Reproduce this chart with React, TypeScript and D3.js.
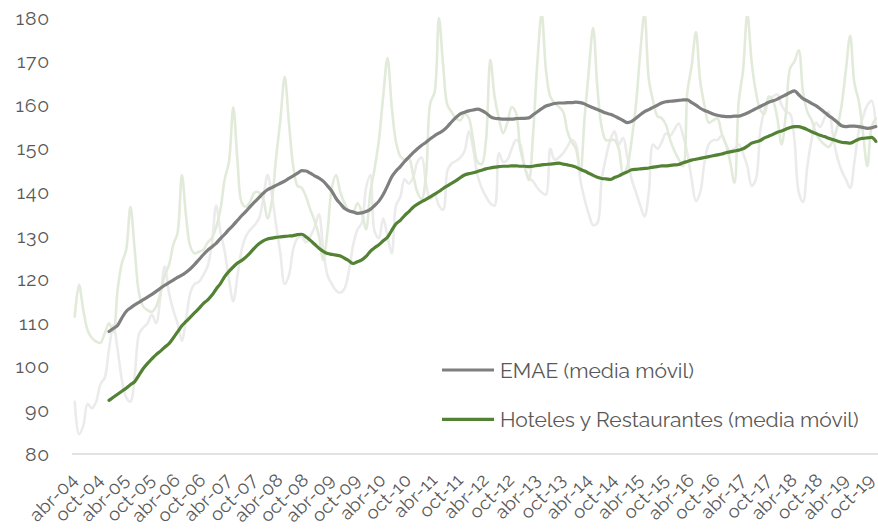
import React from "react";
import * as d3 from "d3";

const N_MONTHS = 188; // abr-04 .. nov-19
const MA_START = 8;

const tickLabels = [
  "abr-04","oct-04","abr-05","oct-05","abr-06","oct-06","abr-07","oct-07",
  "abr-08","oct-08","abr-09","oct-09","abr-10","oct-10","abr-11","oct-11",
  "abr-12","oct-12","abr-13","oct-13","abr-14","oct-14","abr-15","oct-15",
  "abr-16","oct-16","abr-17","oct-17","abr-18","oct-18","abr-19","oct-19",
];

const yTicks = [80, 90, 100, 110, 120, 130, 140, 150, 160, 170, 180];

const hotelRaw = [
  111.5,118.8,113,108.4,106.6,105.8,105.5,107.7,110,108,117.6,123.8,
  126.8,136.7,126.8,116.9,113.8,113,112.6,113.8,116.9,121,123.3,128,
  130.7,144,134.4,127.5,126,126.4,126.8,128.5,129.5,132,136,143,
  147,159.5,147,137.6,136.7,138,140,140,138.5,134,138,148,
  156.6,166.5,156,146,141.5,141,139,136,133.5,130,124.5,131,
  141,144,140,137.5,135.8,135.5,137.5,135.5,131.5,140,145.5,152,
  162,170.8,159.6,151.5,148.3,147.5,147.8,144,140,138.5,144,160.5,
  163,180,169,160,158.4,157,156.5,158,157,152,147,146.5,
  152,170.4,162,157,153.6,156,159.6,158.2,150,146,142.8,153.6,
  170,181,168,162,160.5,159.6,158.5,154,151.5,150,144.5,157,
  168,177.7,164,155,152,152,152,150,144,146,152,160,
  172,181,166,161,157.5,157,155.5,152,149.5,147.5,146,163,
  169,176.8,165.5,160,156,156.5,157,153.6,151,147,142.2,161,
  168,181,170,163,159,158,162,161,157,151,158,168.5,
  170,172.6,163,158.5,156.6,153.6,152,151,150.4,152,155,160,
  168,176,165,161,153.6,146,155,157,
];

const emaeRaw = [
  92,84.5,86.5,91.5,90.5,92,96,97.5,104,109.5,104,97,
  93,92,98,107.5,109,110,112,110,116,123,117,113,
  110,106,111,117,119,119.5,121,123,128,137,131,126.5,
  120,115,121,127,130,131.5,132.5,134,138.5,144,139.5,132.5,
  126,119,121,127,129.5,129.8,128.5,130,132,135,127,121,
  119,117.5,117,118,122,128,131.5,133,141,144,131,129.5,
  134,130,126,137,139,143,142,143.5,147,148,142,138.5,
  139.5,137,136,145,146.7,147.2,148,149.5,154,150,144,141,
  139,137.5,137,149,147,147.5,150,152,151,146,143.5,142.5,
  141,140,139.5,150,147.5,148,149,150.5,152,151,143,138.5,
  135,132.5,133,143,148,152,154,151,152.5,148,143,140,
  137,134.5,140,151,150,151.5,153.5,153,154.5,155.8,153,149,
  143,138,140,147,151,152,152,153,151,149.5,150,151,
  149,146,141.5,143,154,159,161.5,162,162.5,160,158.5,158,
  152,140,137.8,146,152,156,155,157,158.5,153,148,145,
  143,141,147,154,157.3,160,161,155,
];

// moving averages, starting at month index MA_START (dic-04)
const emaeMA = [
  108.1,108.8,109.5,111.2,112.7,113.5,114.2,114.8,115.4,116,116.6,117.3,
  118,118.7,119.3,119.9,120.5,121,121.7,122.5,123.5,124.6,125.7,126.7,
  127.5,128.3,129.4,130.4,131.5,132.5,133.6,134.7,135.7,136.8,137.8,138.8,
  139.8,140.6,141.1,141.6,142.1,142.6,143.2,143.8,144.4,145,144.9,144.4,
  143.8,143.3,142.6,141.5,140.3,138.6,137.4,136.3,135.8,135.5,135.2,135.3,
  135.6,136.1,137,138,139.5,141.5,143.6,144.9,145.9,147.1,148.1,149.1,
  150,150.8,151.5,152.3,153,153.6,154.2,155.1,156.2,157.2,158,158.4,
  158.7,158.9,159.1,158.8,158.2,157.4,157,156.9,156.8,156.8,156.8,156.9,
  157,157,157.1,157.8,158.5,159.2,159.8,160.1,160.4,160.5,160.5,160.6,
  160.6,160.7,160.6,160.3,159.8,159.4,159,158.6,158.2,157.9,157.5,157,
  156.5,156,156.3,157,157.8,158.5,159,159.5,160,160.5,160.8,160.9,
  161,161.1,161.2,161.2,160.6,160,159.3,158.8,158.4,158,157.7,157.5,
  157.4,157.4,157.5,157.5,157.8,158.2,158.7,159.2,159.7,160.2,160.7,161,
  161.4,161.9,162.4,162.9,163.3,162.4,161.5,161,160.4,159.9,159.2,158.4,
  157.6,156.9,156.1,155.3,155.1,155.2,155.2,155.1,154.9,154.7,154.8,155.1,
];

const hotelMA = [
  92.3,93,93.7,94.4,95.1,95.9,96.6,98.1,99.6,100.8,101.8,102.8,
  103.6,104.5,105.3,106.6,108,109.4,110.4,111.4,112.4,113.4,114.5,115.3,
  116.4,117.8,119.1,120.7,121.9,122.9,123.8,124.4,125.2,126.2,127.3,128.2,
  128.9,129.3,129.5,129.7,129.8,129.9,130,130.1,130.3,130.4,129.8,129,
  128.1,127.2,126.5,126,125.8,125.6,125.4,124.9,124.3,123.7,124.1,124.5,
  125.3,126.5,127.3,128,128.9,129.7,131.3,132.8,133.6,134.7,135.6,136.6,
  137.3,137.9,138.4,139,139.6,140.2,140.9,141.5,142.1,142.7,143.4,144,
  144.3,144.5,144.8,145.1,145.4,145.6,145.8,145.9,146,146,146.1,146.1,
  146,146,145.9,146,146.2,146.3,146.4,146.5,146.6,146.7,146.5,146.3,
  146.1,145.8,145.3,144.9,144.4,143.9,143.5,143.2,143.1,143,143.4,143.8,
  144.3,144.7,145.2,145.3,145.4,145.5,145.6,145.8,145.9,146.1,146.1,146.2,
  146.3,146.4,146.8,147.1,147.4,147.6,147.8,148,148.2,148.4,148.6,148.8,
  149.1,149.3,149.5,149.7,150,150.6,151.3,151.6,151.9,152.5,152.9,153.3,
  153.8,154.1,154.5,154.9,155.1,155.1,154.8,154.4,153.9,153.5,153.1,152.8,
  152.4,152.1,151.8,151.5,151.4,151.3,151.7,152.2,152.4,152.5,152.6,151.7,
];

const legendItems = [
  { label: "EMAE (media móvil)", color: "#7f7f7f" },
  { label: "Hoteles y Restaurantes (media móvil)", color: "#548235" },
];

const W = 878;
const H = 529;
const FONT = "Raleway, Lato, 'Open Sans', sans-serif";

export default function App() {
  const months = d3.range(N_MONTHS);
  const x = d3.scaleBand<number>().domain(months).range([72.6, 878]).padding(0);
  const cx = (i: number) => (x(i) as number) + x.bandwidth() / 2;
  const y = d3.scaleLinear().domain([80, 180]).range([454, 18]);

  const rawLine = d3
    .line<number>()
    .x((_, i) => cx(i))
    .y((d) => y(d))
    .curve(d3.curveCatmullRom.alpha(0.5));
  const maLine = d3
    .line<number>()
    .x((_, i) => cx(i + MA_START))
    .y((d) => y(d))
    .curve(d3.curveMonotoneX);

  return (
    <svg
      width={W}
      height={H}
      style={{ position: "absolute", left: 0, top: 0, background: "#fff" }}
      fontFamily={FONT}
    >
      <defs>
        <clipPath id="plot">
          <rect x={70} y={16} width={810} height={440} />
        </clipPath>
      </defs>
      {yTicks.map((t) => (
        <text
          key={t}
          x={50}
          y={y(t)}
          textAnchor="end"
          dominantBaseline="central"
          fontSize={19.5}
          letterSpacing={0.8}
          fill="#595959"
        >
          {t}
        </text>
      ))}
      <line x1={72} x2={878} y1={y(80)} y2={y(80)} stroke="#d9d9d9" strokeWidth={1.5} />
      <g clipPath="url(#plot)" fill="none" strokeLinejoin="round" strokeLinecap="round">
        <path d={rawLine(emaeRaw) || ""} stroke="#ebebeb" strokeWidth={2.6} />
        <path d={rawLine(hotelRaw) || ""} stroke="#e2ebda" strokeWidth={2.6} />
        <path d={maLine(emaeMA) || ""} stroke="#7f7f7f" strokeWidth={3.2} />
        <path d={maLine(hotelMA) || ""} stroke="#548235" strokeWidth={3.2} />
      </g>
      {tickLabels.map((lab, k) => {
        const tx = cx(k * 6) + 4;
        const ty = 481;
        return (
          <text
            key={lab}
            transform={`translate(${tx},${ty}) rotate(-45)`}
            textAnchor="end"
            fontSize={18.5}
            letterSpacing={0.4}
            fill="#595959"
          >
            {lab}
          </text>
        );
      })}
      {legendItems.map((it, k) => {
        const ly = 370 + k * 49.3;
        return (
          <g key={it.label}>
            <line x1={442} x2={494} y1={ly} y2={ly} stroke={it.color} strokeWidth={3.2} />
            <text x={500} y={ly} dominantBaseline="central" fontSize={21} fill="#595959">
              {it.label}
            </text>
          </g>
        );
      })}
    </svg>
  );
}
